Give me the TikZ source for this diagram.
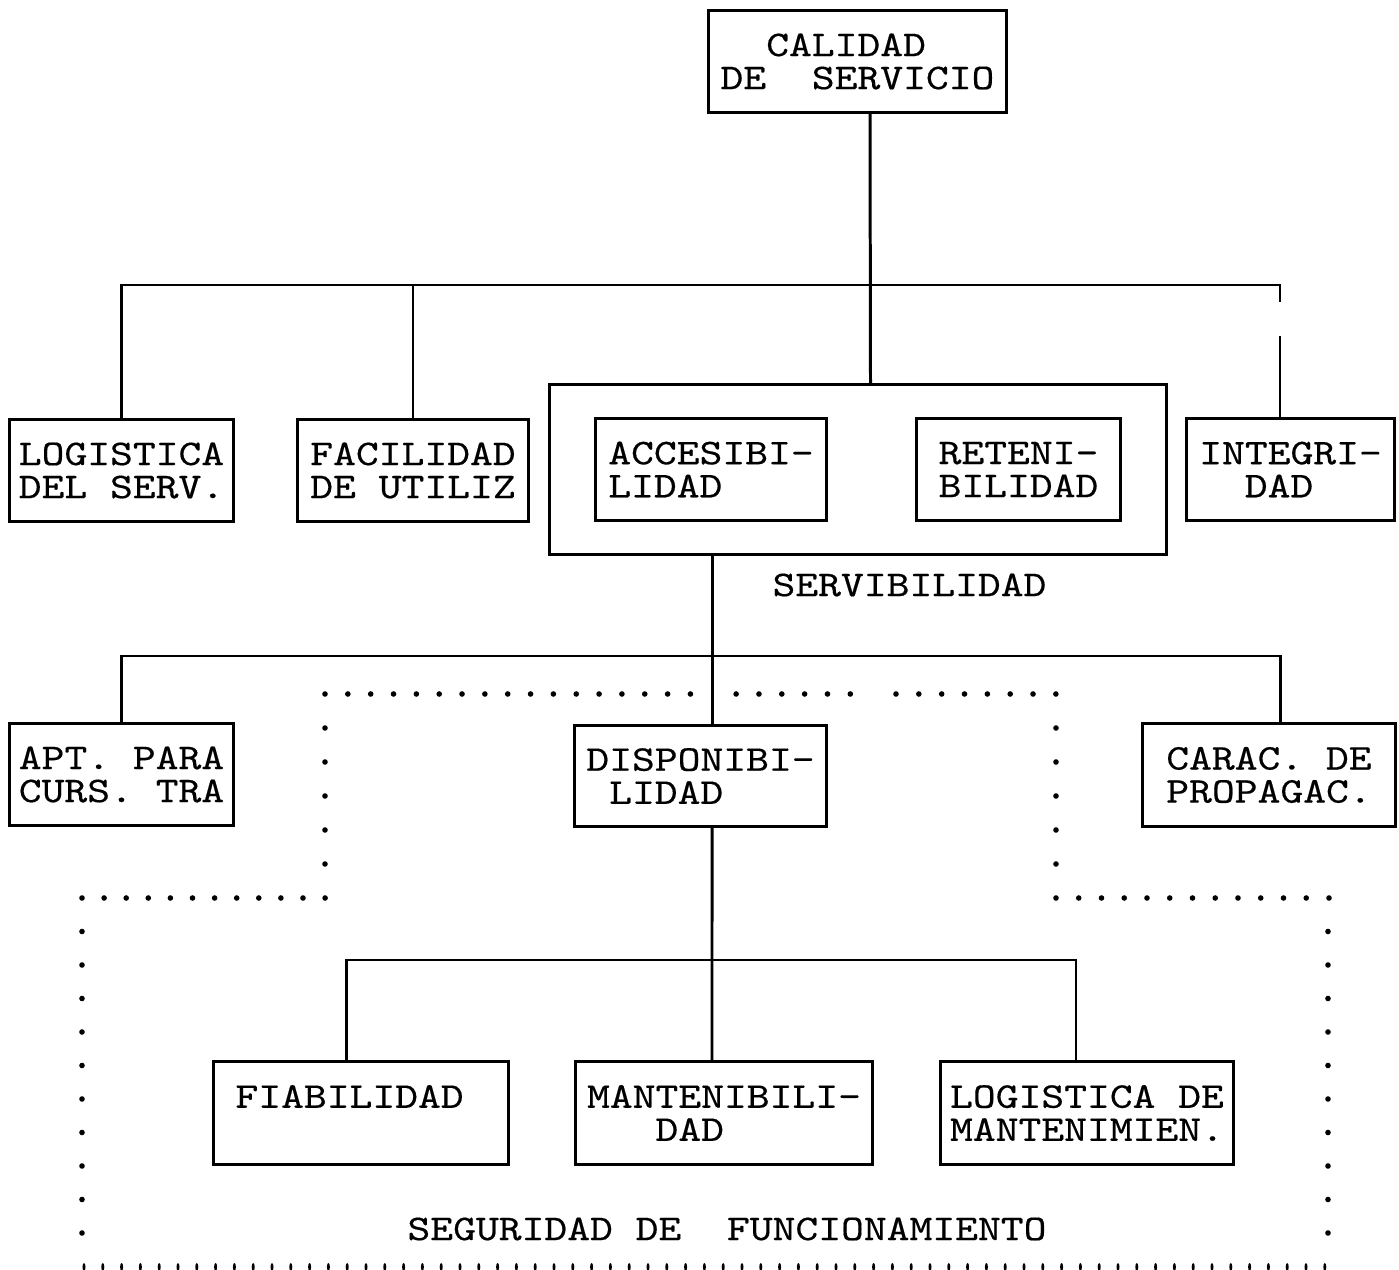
\documentclass[tikz,border=0pt]{standalone}
\usepackage{fontspec}
\newfontfamily\typewr[FakeStretch=1.2, FakeBold=0.4]{lmmono10-regular.otf}

\begin{document}
\begin{tikzpicture}[x=0.01cm, y=-0.01cm,
    box/.style={draw, line width=0.85pt, inner sep=0pt, align=left,
      font=\typewr\fontsize{10.3}{9.4}\selectfont},
    tag/.style={inner sep=0pt, font=\typewr\fontsize{10.3}{9.4}\selectfont},
    link/.style={line width=0.85pt}]
  \useasboundingbox (0,0) rectangle (1399,1270);

  % top level
  \node[box, minimum width=2.97cm, minimum height=1.01cm] (cal) at (857.5,61.5)
    {\hphantom{XX}CALIDAD\\DE\hphantom{XX}SERVICIO};

  % second level
  \node[box, minimum width=2.23cm, minimum height=1.01cm] (logi) at (121.5,470.5)
    {LOGISTICA\\DEL SERV.};
  \node[box, minimum width=2.30cm, minimum height=1.01cm] (faci) at (413,470.5)
    {FACILIDAD\\DE UTILIZ};
  \node[draw, line width=0.85pt, minimum width=6.16cm, minimum height=1.70cm] (srv) at (858,469.5) {};
  \node[box, minimum width=2.30cm, minimum height=1.02cm] (acce) at (711,469.5)
    {ACCESIBI-\\LIDAD};
  \node[box, minimum width=2.04cm, minimum height=1.02cm] (rete) at (1018.5,469.5)
    {RETENI-\\BILIDAD};
  \node[box, minimum width=2.07cm, minimum height=1.02cm] (integ) at (1290.5,469.5)
    {INTEGRI-\\\hphantom{XX}DAD};
  \node[tag] (srvtag) at (909.5,585) {SERVIBILIDAD};

  % third level
  \node[box, minimum width=2.23cm, minimum height=1.02cm] (apt) at (121.5,774.5)
    {APT. PARA\\CURS. TRA};
  \node[box, minimum width=2.51cm, minimum height=1.00cm] (disp) at (700.5,776)
    {DISPONIBI-\\\hphantom{X}LIDAD};
  \node[box, minimum width=2.52cm, minimum height=1.02cm] (cara) at (1269,775)
    {CARAC. DE\\PROPAGAC.};

  % fourth level
  \node[box, minimum width=2.95cm, minimum height=1.02cm] (fiab) at (361,1113)
    {FIABILIDAD\hphantom{X}\\\vphantom{X}};
  \node[box, minimum width=2.96cm, minimum height=1.02cm] (mant) at (724,1113)
    {MANTENIBILI-\\\hphantom{XXX}DAD};
  \node[box, minimum width=2.93cm, minimum height=1.02cm] (logm) at (1087,1113)
    {LOGISTICA DE\\MANTENIMIEN.};
  \node[tag] (segtag) at (727,1229) {SEGURIDAD DE\hphantom{XX}FUNCIONAMIENTO};

  % connectors
  \coordinate (bus1) at (870,285);
  \coordinate (bus2) at (712,656);
  \coordinate (bus3) at (712,960);
  \draw[link] ([xshift=1.25mm]cal.south) -- ([xshift=1.25mm]srv.north);
  \draw[link] (logi.north) |- ([xshift=-1.05mm]integ.north |- bus1) -- ++(0,17);
  \draw[link] ([xshift=-1.05mm]integ.north) -- ++(0,-81);
  \draw[link] (faci.north) -- (faci.north |- bus1);
  \draw[link] ([xshift=1.15mm]disp.north) -- ([xshift=1.15mm]disp.north |- srv.south);
  \draw[link] (apt.north) |- ([xshift=1.1mm]cara.north |- bus2) -- ([xshift=1.1mm]cara.north);
  \draw[link] ([xshift=1.15mm]disp.south) -- ([xshift=-1.2mm]mant.north);
  \draw[link] ([xshift=-1.4mm]fiab.north) |- ([xshift=-1.1mm]logm.north |- bus3)
    -- ([xshift=-1.1mm]logm.north);

  % dotted frame
  \foreach \i in {0,...,32}{
    \ifnum\i=17 \else \ifnum\i=24 \else
      \fill (325+22.84*\i,694) circle (0.28mm);
    \fi\fi}
  \foreach \k in {1,...,5}{
    \fill (325,694+34*\k) circle (0.28mm);
    \fill (1056,694+34*\k) circle (0.28mm);}
  \foreach \i in {0,...,11}
    \fill (82+22.1*\i,898) circle (0.28mm);
  \foreach \i in {0,...,12}
    \fill (1056+22.75*\i,898) circle (0.28mm);
  \foreach \k in {1,...,10}{
    \fill (82,898+33.5*\k) circle (0.28mm);
    \fill (1328,898+33.5*\k) circle (0.28mm);}
  \foreach \i in {0,...,66}
    \fill (84+18.8*\i,1267) ellipse (0.15mm and 0.4mm);
\end{tikzpicture}
\end{document}
